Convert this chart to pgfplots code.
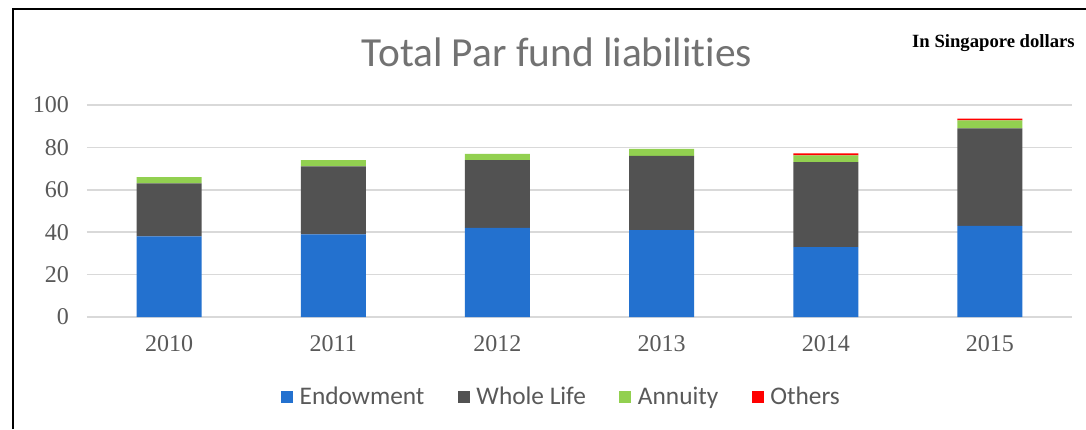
\documentclass[border=0pt]{standalone}
\usepackage{pgfplots}
\pgfplotsset{compat=1.18}
\usepackage{fontspec}
\setmainfont{Liberation Serif}
\newfontfamily\carlito[Ligatures=NoCommon]{Carlito}
\definecolor{endow}{HTML}{2371CF}
\definecolor{whole}{HTML}{525252}
\definecolor{annu}{HTML}{92D050}
\definecolor{oth}{HTML}{FF0000}
\definecolor{gridc}{HTML}{D9D9D9}
\definecolor{txt}{HTML}{595959}
\begin{document}
\begin{tikzpicture}[x=0.75pt,y=0.75pt]
\path[use as bounding box] (0,0) rectangle (1086,429);
\fill[white] (0,0) rectangle (1086,429);
\draw[line width=1.5pt] (13,0) -- (13,420) -- (1086,420);
% title and unit note
\node[text=txt!85, font=\carlito\fontsize{31}{36}\selectfont] at (557,377) {Total Par fund liabilities};
\node[anchor=east, font=\bfseries\fontsize{14}{16}\selectfont, inner sep=0pt] at (1075,386) {In Singapore dollars};
\begin{axis}[
    at={(65.25pt,84pt)}, anchor=south west,
    scale only axis,
    width=738.75pt, height=159pt,
    ybar stacked,
    bar width=48.75pt,
    xmin=-0.5, xmax=5.5,
    ymin=0, ymax=100,
    ytick={0,20,40,60,80,100},
    xtick=data,
    xticklabels={2010,2011,2012,2013,2014,2015},
    ymajorgrids,
    grid style={gridc, line width=1.2pt},
    axis line style={draw=none},
    tick style={draw=none},
    /pgf/number format/assume math mode=true,
    ticklabel style={text=txt, font=\fontsize{18}{20}\selectfont},
    yticklabel style={xshift=-10pt},
    xticklabel style={yshift=-10pt},
    legend columns=4,
    legend style={at={(0.482,-0.377)}, anchor=center, draw=none, fill=none,
        font=\carlito\fontsize{19}{22}\selectfont, text=txt,
        /tikz/every odd column/.append style={column sep=3pt},
        /tikz/every even column/.append style={column sep=23pt}},
]
\addplot[fill=endow, draw=none, legend image code/.code={\fill[endow] (0pt,-4.5pt) rectangle (9pt,4.5pt);}]
  coordinates {(0,38) (1,39) (2,42) (3,41) (4,33) (5,43)};
\addplot[fill=whole, draw=none, legend image code/.code={\fill[whole] (0pt,-4.5pt) rectangle (9pt,4.5pt);}]
  coordinates {(0,25) (1,32) (2,32) (3,35) (4,40) (5,46)};
\addplot[fill=annu, draw=none, legend image code/.code={\fill[annu] (0pt,-4.5pt) rectangle (9pt,4.5pt);}]
  coordinates {(0,3) (1,3) (2,3) (3,3.3) (4,3.2) (5,3.7)};
\addplot[fill=oth, draw=none, legend image code/.code={\fill[oth] (0pt,-4.5pt) rectangle (9pt,4.5pt);}]
  coordinates {(0,0) (1,0) (2,0) (3,0) (4,1) (5,0.9)};
\legend{Endowment, Whole Life, Annuity, Others}
\end{axis}
\end{tikzpicture}
\end{document}
